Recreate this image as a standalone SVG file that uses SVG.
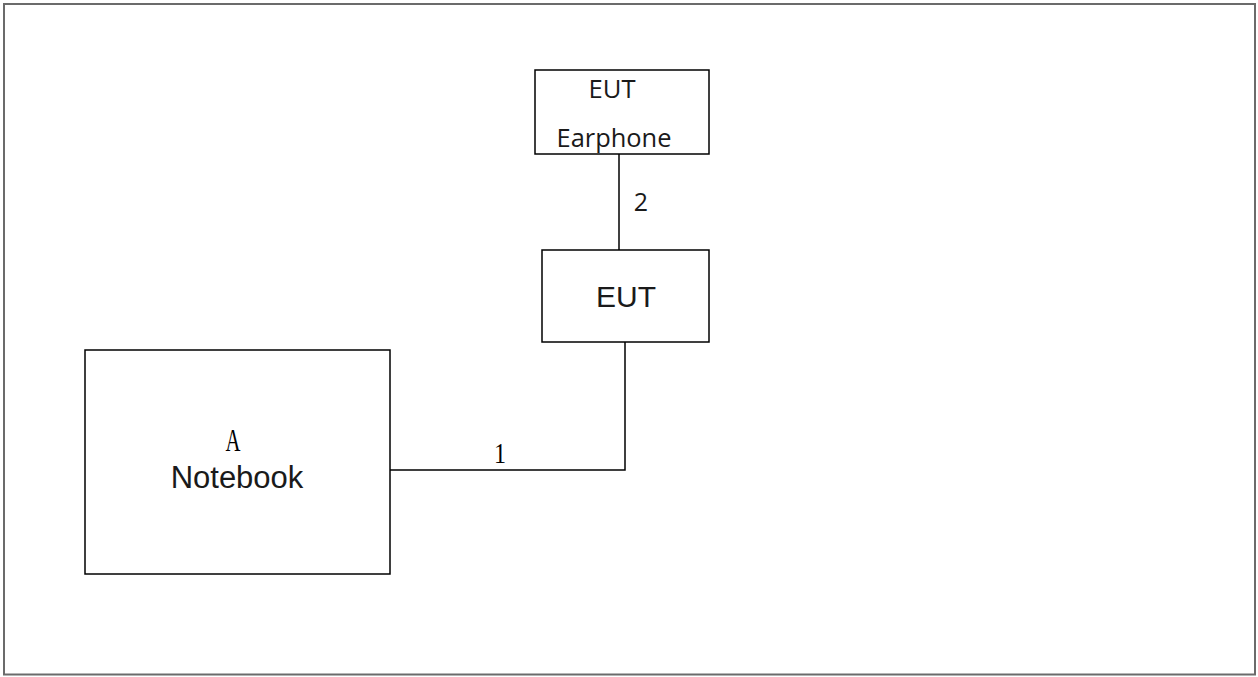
<svg xmlns="http://www.w3.org/2000/svg" width="1258" height="677" viewBox="0 0 1258 677">
  <style>
    .box { fill: #ffffff; stroke: #000000; stroke-width: 1.5; }
    .wire { fill: none; stroke: #000000; stroke-width: 1.5; }
    .sans { font-family: "Open Sans", "Liberation Sans", sans-serif; fill: #1a1a1a; }
    .arial { font-family: "Liberation Sans", Arial, sans-serif; fill: #1a1a1a; }
    .serif { font-family: "Liberation Serif", "Times New Roman", serif; fill: #000000; }
  </style>
  <rect x="0" y="0" width="1258" height="677" fill="#ffffff"/>
  <!-- outer frame -->
  <rect x="4" y="4" width="1251" height="670.5" fill="none" stroke="#6b6b6b" stroke-width="2"/>

  <!-- connectors -->
  <g id="connectors">
    <polyline class="wire" points="619,154 619,250"/>
    <polyline class="wire" points="390,470 625,470 625,342"/>
    <text class="sans" x="641" y="211" font-size="25" text-anchor="middle">2</text>
    <text class="serif" x="500" y="463" font-size="30" text-anchor="middle" textLength="12" lengthAdjust="spacingAndGlyphs">1</text>
  </g>

  <!-- earphone -->
  <g id="earphone">
    <rect class="box" x="535" y="70" width="174" height="84"/>
    <text class="sans" x="612" y="98" font-size="25" text-anchor="middle" textLength="47" lengthAdjust="spacingAndGlyphs">EUT</text>
    <text class="sans" x="614" y="147" font-size="25" text-anchor="middle" textLength="115" lengthAdjust="spacingAndGlyphs">Earphone</text>
  </g>

  <!-- EUT -->
  <g id="eut">
    <rect class="box" x="542" y="250" width="167" height="92"/>
    <text class="arial" x="626" y="307" font-size="30" text-anchor="middle">EUT</text>
  </g>

  <!-- notebook -->
  <g id="notebook">
    <rect class="box" x="85" y="350" width="305" height="224"/>
    <text class="serif" x="233" y="451" font-size="31" text-anchor="middle" textLength="15" lengthAdjust="spacingAndGlyphs">A</text>
    <text class="arial" x="237" y="488" font-size="31" text-anchor="middle">Notebook</text>
  </g>
</svg>
